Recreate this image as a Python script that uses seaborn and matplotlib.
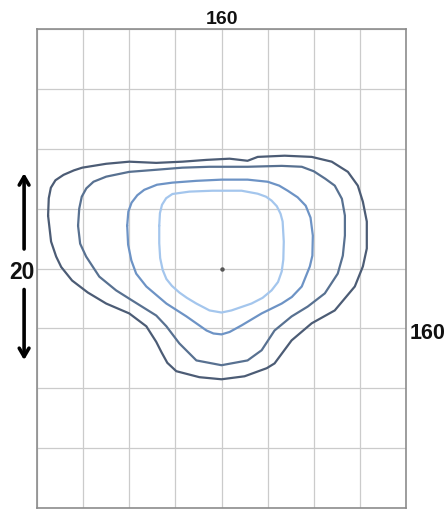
import matplotlib
matplotlib.use("Agg")
import matplotlib.pyplot as plt
import seaborn as sns
import pandas as pd

# contour outlines, grid units (one cell = 20), traced clockwise from the left side
outer_x = [-75.2, -74.9, -74.0, -72.0, -68.5, -64.0, -60.4, -50.0, -40.0, -28.3, -17.0, -6.5, 3.5, 11.3,
           15.7, 27.4, 39.1, 47.8, 54.8, 59.1, 61.3, 63.0, 63.0, 61.3, 57.8, 49.1, 39.1, 30.4, 23.0, 19.6,
           10.0, 0.0, -9.6, -19.6, -23.5, -26.0, -28.3, -32.6, -40.0, -50.0, -58.0, -64.8, -69.5, -71.7,
           -73.9, -75.2]
outer_y = [17.7, 23.5, 27.0, 29.5, 31.3, 32.8, 33.7, 35.0, 35.7, 35.3, 35.7, 36.3, 36.7, 36.0,
           37.3, 37.7, 37.3, 35.7, 32.3, 27.7, 22.3, 15.7, 6.7, 0.7, -6.0, -14.0, -18.3, -24.0, -31.7, -33.3,
           -36.0, -37.0, -36.3, -34.3, -31.5, -28.0, -24.5, -19.3, -15.0, -11.7, -8.0, -4.0, 0.5, 4.0,
           9.0, 17.7]

second_x = [-62.2, -61.7, -60.6, -58.6, -55.5, -50.0, -40.0, -28.3, -17.0, -5.2, 11.3, 26.1, 34.8, 40.0,
            45.0, 49.1, 52.2, 53.5, 53.5, 52.6, 50.4, 44.8, 37.4, 30.4, 23.0, 17.4, 11.3, 0.0, -10.9,
            -18.3, -23.9, -28.3, -38.7, -45.7, -53.0, -58.7, -61.3, -62.2]
second_y = [14.3, 20.0, 24.0, 26.8, 29.0, 30.7, 32.3, 33.0, 33.7, 34.0, 34.0, 34.3, 34.0, 32.5,
            30.0, 27.7, 23.3, 17.7, 11.0, 4.3, -1.7, -8.3, -12.7, -16.0, -20.7, -27.3, -30.7, -32.3, -30.7,
            -25.0, -19.3, -15.7, -10.7, -7.3, -2.7, 4.0, 8.3, 14.3]

third_x = [-40.9, -40.4, -39.0, -36.5, -33.5, -28.0, -21.3, -10.9, 0.0, 11.3, 20.0, 25.0, 28.7, 33.0,
           36.5, 38.6, 39.6, 39.4, 38.3, 34.8, 30.5, 26.1, 17.4, 8.7, 3.5, 0.0, -3.5, -6.5, -15.2, -23.9,
           -32.6, -37.0, -39.1, -40.5, -40.9]
third_y = [14.3, 19.0, 22.0, 24.5, 26.3, 28.0, 28.7, 29.3, 29.7, 29.7, 29.0, 27.7, 26.0, 23.8,
           21.0, 17.0, 11.0, 4.3, 0.7, -6.0, -9.5, -11.7, -15.0, -19.0, -21.2, -22.0, -21.7, -20.7, -16.0,
           -11.7, -6.0, -1.7, 2.7, 8.0, 14.3]

inner_x = [-27.0, -26.7, -25.8, -24.0, -21.3, -13.9, -3.9, 8.7, 15.7, 19.3, 21.7, 24.0, 25.6, 26.5,
           27.0, 26.8, 26.1, 24.5, 21.7, 17.8, 13.0, 4.3, 0.0, -5.2, -10.9, -15.0, -18.3, -21.5,
           -23.9, -25.5, -26.6, -27.0, -27.0]
inner_y = [14.3, 18.5, 21.3, 23.5, 24.9, 25.7, 26.0, 26.0, 25.0, 24.0, 22.7, 20.8, 18.3, 15.7,
           9.0, 3.0, -1.0, -4.5, -7.3, -9.8, -11.7, -14.0, -14.7, -14.0, -11.7, -9.8, -8.0, -5.8,
           -3.5, -0.5, 3.5, 8.5, 14.3]

curves = [
    (outer_x, outer_y, "#4c5c75"),
    (second_x, second_y, "#587191"),
    (third_x, third_y, "#6d93c5"),
    (inner_x, inner_y, "#a4c6ed"),
]

top_label = "160"
right_label = "160"
left_label = "20"

sns.set_style("whitegrid", {"grid.color": "#cbcbcb", "axes.edgecolor": "#8c8c8c"})
plt.rcParams["font.family"] = ["Liberation Sans", "DejaVu Sans"]

fig = plt.figure(figsize=(4.47, 5.10), dpi=100)
ax = fig.add_axes([0.0828, 0.002, 0.8255, 0.939])

for xs, ys, col in curves:
    df = pd.DataFrame({"x": xs, "y": ys})
    sns.lineplot(data=df, x="x", y="y", sort=False, estimator=None, color=col,
                 linewidth=1.6, ax=ax, solid_joinstyle="round", solid_capstyle="round")

ax.plot([0], [0], marker="o", markersize=2.2, color="#555555")

ax.set_xlim(-80, 80)
ax.set_ylim(-80, 80)
ax.set_xticks(range(-80, 81, 20))
ax.set_yticks(range(-80, 81, 20))
ax.set_xticklabels([])
ax.set_yticklabels([])
ax.set_xlabel("")
ax.set_ylabel("")
ax.tick_params(length=0)
ax.grid(True, linewidth=0.9)
for s in ax.spines.values():
    s.set_linewidth(1.2)

ax.text(0.5014, 1.022, top_label, transform=ax.transAxes, ha="center", va="center",
        fontsize=14, fontweight="bold", color="#111111")
ax.text(1.011, 0.367, right_label, transform=ax.transAxes, ha="left", va="center",
        fontsize=15.5, fontweight="bold", color="#111111")
ax.text(-0.0407, 0.4948, left_label, transform=ax.transAxes, ha="center", va="center",
        fontsize=16.5, fontweight="bold", color="#111111")

arrow_kw = dict(arrowstyle="->,head_length=0.6,head_width=0.35", color="black", lw=2.6)
ax.annotate("", xy=(-0.035, 0.705), xytext=(-0.035, 0.535), xycoords="axes fraction",
            arrowprops=arrow_kw, annotation_clip=False)
ax.annotate("", xy=(-0.035, 0.303), xytext=(-0.035, 0.462), xycoords="axes fraction",
            arrowprops=arrow_kw, annotation_clip=False)

fig.savefig("out.png", dpi=100)
